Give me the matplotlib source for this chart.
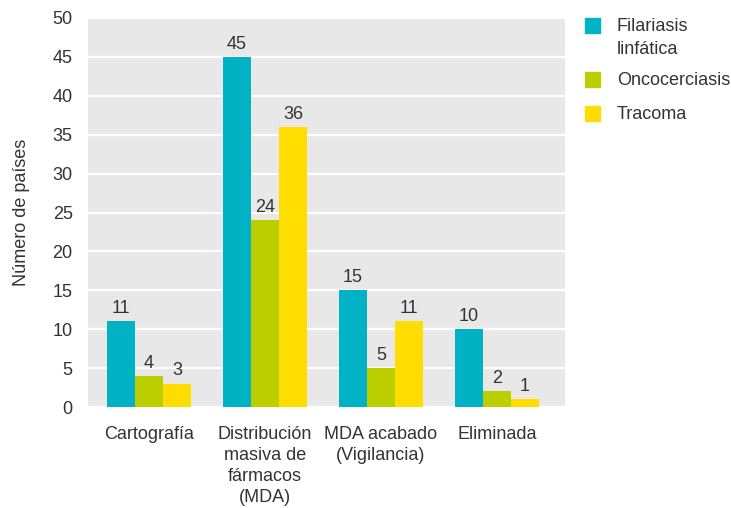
import matplotlib
matplotlib.use("Agg")
import matplotlib.pyplot as plt
import numpy as np

categories = ["Cartografía", "Distribución\nmasiva de\nfármacos\n(MDA)", "MDA acabado\n(Vigilancia)", "Eliminada"]
series_names = ["Filariasis\nlinfática", "Oncocerciasis", "Tracoma"]
filariasis = [11, 45, 15, 10]
oncocerciasis = [4, 24, 5, 2]
tracoma = [3, 36, 11, 1]
series_values = [filariasis, oncocerciasis, tracoma]
colors = ["#00B2C3", "#BBCE00", "#FFDD00"]
yticks = [0, 5, 10, 15, 20, 25, 30, 35, 40, 45, 50]

plt.rcParams['font.family'] = ['Liberation Sans', 'DejaVu Sans']
txt = "#333333"
fs = 13

fig = plt.figure(figsize=(7.31, 5.08), dpi=100)
ax = fig.add_axes([88/731, 1-407/508, (565-88)/731, (407-18)/508])
ax.set_facecolor("#E8E8E8")
for s in ax.spines.values():
    s.set_visible(False)

x = np.arange(len(categories))
w = 0.241
for i, (vals, c) in enumerate(zip(series_values, colors)):
    bars = ax.bar(x + (i-1)*w, vals, width=w, color=c, zorder=3)
    for b, v in zip(bars, vals):
        ax.annotate(str(v), (b.get_x()+b.get_width()/2, v), xytext=(0, 3),
                    textcoords="offset points", ha="center", va="bottom",
                    fontsize=fs, color=txt)

ax.set_ylim(0, 50)
ax.set_xlim(-0.525, 3.585)
ax.set_yticks(yticks)
ax.yaxis.grid(True, color="white", linewidth=1.6, zorder=1)
ax.set_axisbelow(True)
ax.tick_params(axis='both', length=0, labelsize=fs, colors=txt)
ax.tick_params(axis='y', pad=11)
ax.tick_params(axis='x', pad=14)
ax.set_xticks(x)
ax.set_xticklabels(categories, linespacing=1.3)
ax.set_ylabel("Número de países", fontsize=fs, color=txt, labelpad=16)

# legend
ly = [25, 79, 113]
for name, c, yy in zip(series_names, colors, ly):
    fig.patches.append(plt.Rectangle((585/731, 1-(yy+7.5)/508), 15/731, 15/508,
                                     transform=fig.transFigure, color=c, figure=fig))
    fig.text(617/731, 1-(yy-7)/508, name, fontsize=fs, color=txt, va="top",
             ha="left", linespacing=1.45)

fig.savefig("out.png", dpi=100)
